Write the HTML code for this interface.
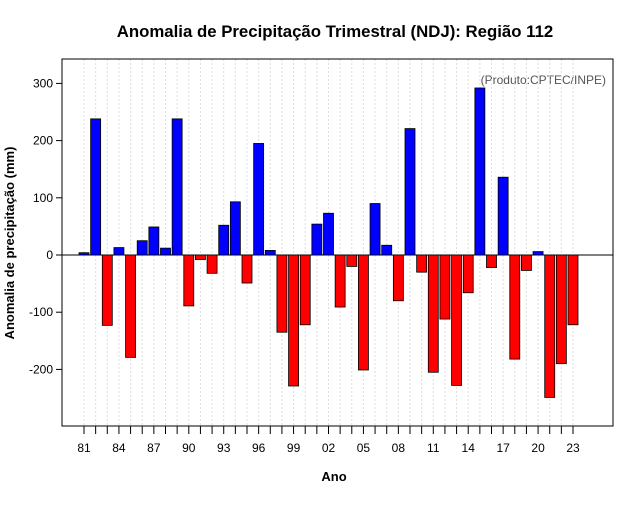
<!DOCTYPE html>
<html><head><meta charset="utf-8"><style>
body{margin:0;background:#fff;font-family:"Liberation Sans",sans-serif}
svg text{font-family:"Liberation Sans",sans-serif}
</style></head><body>
<svg id="c" width="640" height="500" xmlns="http://www.w3.org/2000/svg">
<text x="335" y="37" text-anchor="middle" font-size="16.8" font-weight="bold">Anomalia de Precipitação Trimestral (NDJ): Região 112</text>
<text x="334" y="481" text-anchor="middle" font-size="13" font-weight="bold">Ano</text>
<text transform="translate(14,243) rotate(-90)" text-anchor="middle" font-size="13" font-weight="bold">Anomalia de precipitação (mm)</text>
<text x="606" y="84" text-anchor="end" font-size="12" fill="#555">(Produto:CPTEC/INPE)</text>
<g id="g"></g>
</svg>
<script>
const years=[1981,1982,1983,1984,1985,1986,1987,1988,1989,1990,1991,1992,1993,1994,1995,1996,1997,1998,1999,2000,2001,2002,2003,2004,2005,2006,2007,2008,2009,2010,2011,2012,2013,2014,2015,2016,2017,2018,2019,2020,2021,2022,2023];
const values=[4,238,-123,13,-179,25,49,12,238,-89,-8,-32,52,93,-49,195,8,-135,-229,-122,54,73,-91,-20,-201,90,17,-80,221,-30,-205,-112,-228,-66,292,-22,136,-182,-27,6,-249,-190,-122];
const yTicks=[300,200,100,0,-100,-200];
const ns="http://www.w3.org/2000/svg";
const g=document.getElementById('g');
const L=62,R=613,T=59,B=426;
const x=y=>84+(y-1981)*(573-84)/42;
const yv=v=>255-v*0.572;
function mk(t,a){const e=document.createElementNS(ns,t);for(const k in a)e.setAttribute(k,a[k]);g.appendChild(e);return e;}
years.forEach(yr=>{const e=mk('line',{x1:x(yr),x2:x(yr),y1:T,y2:B,stroke:'#ddd','stroke-dasharray':'2,2'});


const t=mk('line',{x1:x(yr),x2:x(yr),y1:B,y2:B+8,stroke:'#000'});


if((yr-1981)%3===0){const l=mk('text',{x:x(yr),y:452,'text-anchor':'middle','font-size':12});l.textContent=String(yr%100).padStart(2,'0');

}
});
const z=mk('line',{x1:L,x2:R,y1:yv(0),y2:yv(0),stroke:'#000'});


years.forEach((yr,i)=>{const v=values[i];const y0=yv(0),y1=yv(v);
const b=mk('rect',{x:x(yr)-5,y:Math.min(y0,y1),width:10,height:Math.abs(y1-y0),fill:v>=0?'#0000ff':'#ff0000',stroke:'#000','stroke-width':0.8});

});
yTicks.forEach(v=>{const t=mk('line',{x1:L-6,x2:L,y1:yv(v),y2:yv(v),stroke:'#000'});


const l=mk('text',{x:L-9,y:yv(v)+4,'text-anchor':'end','font-size':12});l.textContent=v;

});
const f=mk('rect',{x:L,y:T,width:R-L,height:B-T,fill:'none',stroke:'#000'});


</script>
</body></html>
